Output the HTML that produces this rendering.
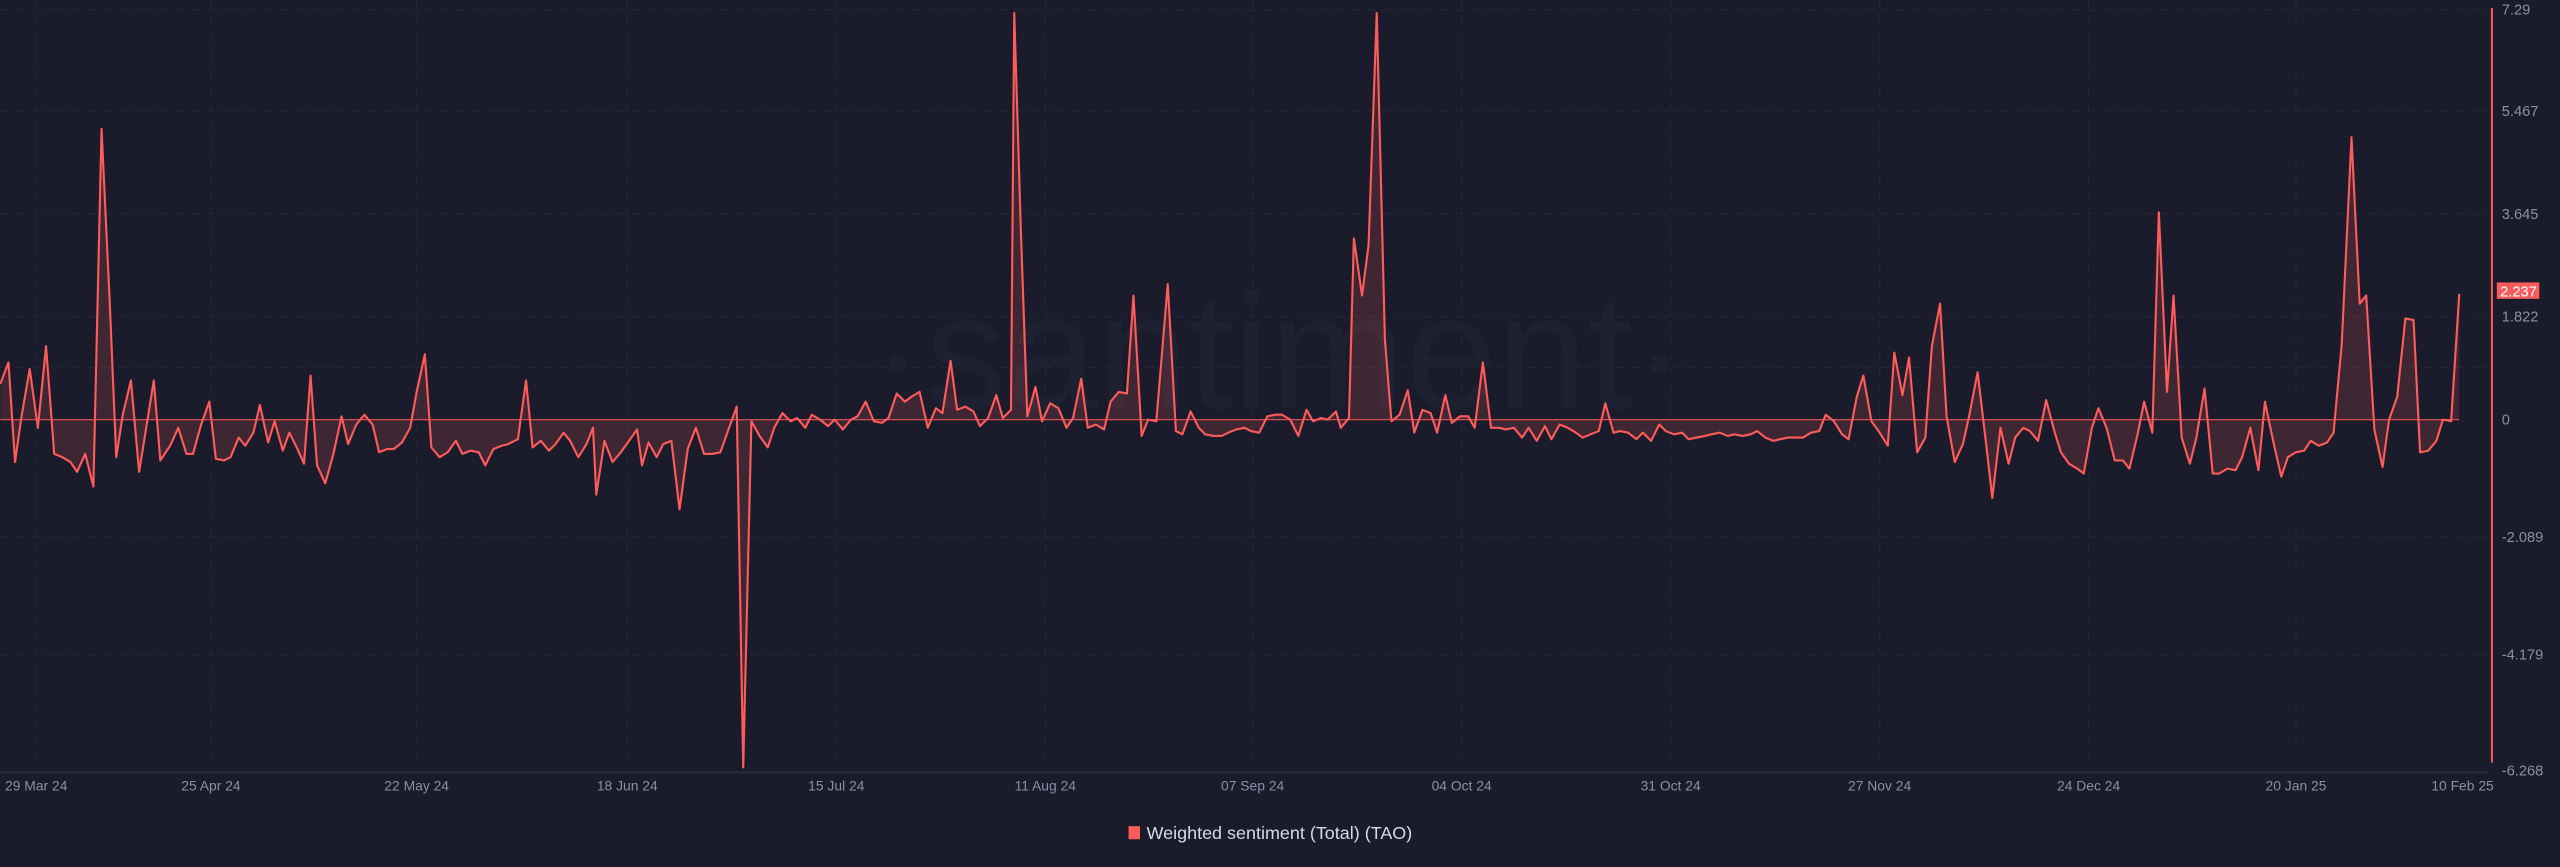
<!DOCTYPE html>
<html><head><meta charset="utf-8"><style>
html,body{margin:0;padding:0;background:#1a1c2c;}
svg{display:block}
text{font-family:"Liberation Sans",sans-serif;}
</style></head><body>
<svg width="2560" height="867" viewBox="0 0 1567.5 531" xmlns="http://www.w3.org/2000/svg">
<rect width="1567.5" height="531" fill="#1a1c2c"/>
<g stroke="#232637" stroke-width="0.8" stroke-dasharray="5,4">
<line x1="0" y1="6" x2="1524" y2="6"/><line x1="0" y1="68" x2="1524" y2="68"/>
<line x1="0" y1="131" x2="1524" y2="131"/><line x1="0" y1="194" x2="1524" y2="194"/>
<line x1="0" y1="225" x2="1524" y2="225"/>
<line x1="0" y1="329" x2="1524" y2="329"/><line x1="0" y1="401" x2="1524" y2="401"/>
<line x1="22" y1="0" x2="22" y2="467"/><line x1="129" y1="0" x2="129" y2="467"/><line x1="255" y1="0" x2="255" y2="467"/><line x1="384" y1="0" x2="384" y2="467"/><line x1="512" y1="0" x2="512" y2="467"/><line x1="640" y1="0" x2="640" y2="467"/><line x1="767" y1="0" x2="767" y2="467"/><line x1="895" y1="0" x2="895" y2="467"/><line x1="1023" y1="0" x2="1023" y2="467"/><line x1="1151" y1="0" x2="1151" y2="467"/><line x1="1279" y1="0" x2="1279" y2="467"/><line x1="1406" y1="0" x2="1406" y2="467"/>
</g>
<line x1="0" y1="473" x2="1524" y2="473" stroke="#2a2e40" stroke-width="1"/>
<text x="783" y="250" font-size="100" fill="#1e2131" text-anchor="middle">·santiment·</text>
<polygon id="fillp" fill="#ff5b5b" fill-opacity="0.16" points=""/>
<line x1="0" y1="257" x2="1506" y2="257" stroke="#ff5b5b" stroke-width="0.8" stroke-opacity="0.8"/>
<polyline id="ln" fill="none" stroke="#ff5b5b" stroke-width="1.3" stroke-linejoin="round" points="0,235 5,222 9,283 13,255 18,226 23,262 28,212 33,278 38,280 43,283 47,289 52,278 57,298 62,79 67,185 71,280 75,254 80,233 85,289 90,258 94,233 98,282 104,273 109,262 114,278 118,278 123,260 128,246 132,281 137,282 141,280 146,268 150,273 155,265 159,248 164,271 168,258 173,276 177,265 182,275 186,284 190,230 194,285 199,296 204,278 209,255 213,272 218,260 223,254 228,260 232,277 237,275 241,275 246,271 251,262 255,240 260,217 264,274 269,280 274,277 279,270 283,278 288,276 293,277 297,285 302,275 307,273 311,272 317,269 322,233 326,274 331,270 336,276 340,272 345,265 349,270 354,280 359,272 363,262 365,303 370,270 375,283 380,277 385,270 390,263 393,285 397,271 402,280 406,272 411,270 416,312 421,275 426,262 431,278 436,278 441,277 446,263 451,249 455,470 460,258 465,267 470,274 474,262 479,253 484,258 488,256 493,262 497,254 502,257 507,261 511,257 516,263 521,257 525,255 530,246 535,258 540,259 544,256 549,241 554,246 558,243 563,240 568,262 573,250 577,253 582,221 586,251 591,249 596,252 600,261 605,256 610,242 614,256 619,251 621,8 625,140 629,255 634,237 638,258 643,247 648,250 653,262 657,256 662,232 666,262 671,260 676,263 680,246 685,240 690,241 694,181 699,267 703,257 708,258 715,174 720,264 724,266 729,252 734,262 738,266 743,267 748,267 752,265 757,263 762,262 766,264 771,265 776,255 781,254 785,254 790,257 795,267 800,251 804,258 809,256 813,257 818,252 821,262 826,256 829,146 834,181 838,150 843,8 848,208 852,258 857,254 862,239 866,265 871,251 876,253 880,265 885,242 889,259 894,255 899,255 903,262 908,222 913,262 918,262 922,263 927,262 932,268 936,262 941,270 946,261 950,269 955,260 960,262 965,265 969,268 974,266 979,264 983,247 988,265 992,264 997,265 1002,269 1006,265 1011,270 1016,260 1020,264 1025,266 1030,265 1034,269 1039,268 1044,267 1048,266 1053,265 1058,267 1062,266 1067,267 1072,266 1076,264 1081,268 1086,270 1090,269 1095,268 1100,268 1104,268 1109,265 1114,264 1118,254 1123,258 1128,266 1132,269 1137,243 1141,230 1146,258 1151,265 1156,273 1160,216 1165,242 1169,219 1174,277 1179,268 1183,212 1188,186 1192,255 1197,283 1202,272 1206,254 1211,228 1216,270 1220,305 1225,262 1230,284 1234,268 1239,262 1243,264 1248,270 1253,245 1258,264 1262,277 1267,284 1272,287 1276,290 1281,262 1285,250 1290,262 1295,282 1300,282 1304,287 1309,266 1313,246 1318,265 1322,130 1327,240 1331,181 1336,268 1341,284 1345,268 1350,238 1355,290 1359,290 1364,287 1369,288 1373,280 1378,262 1383,288 1387,246 1392,270 1397,292 1401,280 1406,277 1411,276 1415,270 1420,273 1425,271 1429,265 1434,211 1440,84 1445,186 1449,181 1454,263 1459,286 1463,257 1468,243 1473,195 1478,196 1482,277 1487,276 1492,270 1496,257 1501,258 1506,180"/>
<line x1="1526" y1="5" x2="1526" y2="467" stroke="#ff5b5b" stroke-width="1.2"/>
<g font-size="9" fill="#8a8fa3">
<text x="1532" y="9">7.29</text><text x="1532" y="71">5.467</text><text x="1532" y="134">3.645</text>
<text x="1532" y="197">1.822</text><text x="1532" y="260">0</text><text x="1532" y="332">-2.089</text>
<text x="1532" y="404">-4.179</text><text x="1532" y="475">-6.268</text>
</g>
<rect x="1529" y="173" width="26" height="10" fill="#ff5b5b"/>
<text x="1531" y="181.5" font-size="9" fill="#ffffff">2.237</text>
<g font-size="8.5" fill="#8a8fa3" text-anchor="middle">
<text x="22" y="484">29 Mar 24</text><text x="129" y="484">25 Apr 24</text><text x="255" y="484">22 May 24</text><text x="384" y="484">18 Jun 24</text><text x="512" y="484">15 Jul 24</text><text x="640" y="484">11 Aug 24</text><text x="767" y="484">07 Sep 24</text><text x="895" y="484">04 Oct 24</text><text x="1023" y="484">31 Oct 24</text><text x="1151" y="484">27 Nov 24</text><text x="1279" y="484">24 Dec 24</text><text x="1406" y="484">20 Jan 25</text><text x="1508" y="484">10 Feb 25</text>
</g>
<rect x="691" y="506" width="7" height="8" fill="#ff5b5b"/>
<text x="702" y="514" font-size="11" fill="#d8dae3">Weighted sentiment (Total) (TAO)</text>
</svg>
<script>
var p=document.getElementById('ln').getAttribute('points');
document.getElementById('fillp').setAttribute('points','0,257 '+p+' 1506,257');
</script>
</body></html>
